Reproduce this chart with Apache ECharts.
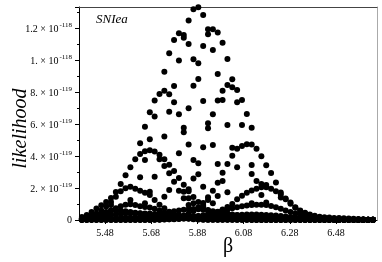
<!DOCTYPE html>
<html><head><meta charset="utf-8">
<script src="https://cdn.jsdelivr.net/npm/echarts@6/dist/echarts.min.js"></script>
<style>html,body{margin:0;padding:0;background:#fff}#c{width:382px;height:262px}</style>
</head><body><div id="c"></div>
<script>
// β sample grid (61 values)
const betaGrid = [
  5.380, 5.401, 5.422, 5.443, 5.464, 5.485, 5.506, 5.527, 5.548, 5.569, 5.590, 5.611, 5.632,
  5.653, 5.674, 5.695, 5.716, 5.737, 5.758, 5.779, 5.800, 5.821, 5.842, 5.863, 5.884, 5.905,
  5.926, 5.947, 5.968, 5.989, 6.010, 6.031, 6.052, 6.073, 6.094, 6.115, 6.136, 6.157,
  6.178, 6.199, 6.220, 6.241, 6.262, 6.283, 6.304, 6.325, 6.346, 6.367, 6.388, 6.409, 6.430, 6.451, 6.472, 6.493, 6.514, 6.535, 6.556, 6.577, 6.598, 6.619, 6.640
];
// likelihood values in units of 1e-119, one per beta in betaGrid
const curveLeftHigh = [
  0.18, 0.32, 0.5, 0.72, 0.92, 1.12, 1.38, 1.75, 2.25, 2.8, 3.3, 3.79, 4.12,
  4.3, 4.36, 4.28, 4.08, 3.8, 3.45, 3.06, 2.62, 2.2, 1.8, 1.44, 1.12, 0.85,
  0.63, 0.46, 0.33, 0.23, 0.16, 0.11, 0.07, 0.05, 0.04, 0.03, 0.02, 0.02,
  0.01, 0.01, 0.01, 0.01, 0.01, 0.01, 0.01, 0.01, 0.01, 0.01, 0.01, 0.01, 0.01, 0.01, 0.01, 0.01, 0.01, 0.01, 0.01, 0.01, 0.01, 0.01, 0.01
];
const curveLeftMid = [
  0.1, 0.17, 0.26, 0.4, 0.6, 0.85, 1.12, 1.45, 1.8, 1.98, 2.08, 1.95, 1.83,
  1.71, 1.56, 1.25, 0.95, 0.73, 0.52, 0.37, 0.26, 0.17, 0.11, 0.07, 0.05, 0.03,
  0.02, 0.02, 0.02, 0.02, 0.02, 0.02, 0.02, 0.02, 0.02, 0.02, 0.02, 0.02,
  0.01, 0.01, 0.01, 0.01, 0.01, 0.01, 0.01, 0.01, 0.01, 0.01, 0.01, 0.01, 0.01, 0.01, 0.01, 0.01, 0.01, 0.01, 0.01, 0.01, 0.01, 0.01, 0.01
];
const curveLeftLow = [
  0.06, 0.1, 0.16, 0.24, 0.34, 0.46, 0.6, 0.74, 0.86, 0.95, 0.98, 0.94, 0.86,
  0.82, 0.78, 0.7, 0.6, 0.47, 0.36, 0.26, 0.18, 0.12, 0.08, 0.05, 0.03, 0.02,
  0.01, 0.01, 0.01, 0.01, 0.01, 0.01, 0.01, 0.01, 0.01, 0.01, 0.01, 0.01,
  0.01, 0.01, 0.01, 0.01, 0.01, 0.01, 0.01, 0.01, 0.01, 0.01, 0.01, 0.01, 0.01, 0.01, 0.01, 0.01, 0.01, 0.01, 0.01, 0.01, 0.01, 0.01, 0.01
];
const curveLeftLowest = [
  0.1, 0.15, 0.22, 0.3, 0.4, 0.5, 0.58, 0.6, 0.58, 0.55, 0.5, 0.45, 0.4,
  0.35, 0.3, 0.27, 0.24, 0.21, 0.19, 0.17, 0.15, 0.13, 0.11, 0.1, 0.09, 0.08,
  0.07, 0.06, 0.05, 0.05, 0.04, 0.04, 0.03, 0.03, 0.03, 0.02, 0.02, 0.02,
  0.01, 0.01, 0.01, 0.01, 0.01, 0.01, 0.01, 0.01, 0.01, 0.01, 0.01, 0.01, 0.01, 0.01, 0.01, 0.01, 0.01, 0.01, 0.01, 0.01, 0.01, 0.01, 0.01
];
const curveMidLow = [
  0.03, 0.04, 0.05, 0.06, 0.07, 0.08, 0.09, 0.1, 0.11, 0.12, 0.14, 0.16, 0.18,
  0.2, 0.25, 0.3, 0.36, 0.42, 0.48, 0.54, 0.6, 0.64, 0.67, 0.68, 0.67, 0.64,
  0.6, 0.55, 0.5, 0.45, 0.4, 0.35, 0.3, 0.26, 0.22, 0.19, 0.16, 0.14,
  0.12, 0.1, 0.09, 0.08, 0.07, 0.06, 0.05, 0.04, 0.04, 0.03, 0.03, 0.03, 0.02, 0.02, 0.02, 0.02, 0.01, 0.01, 0.01, 0.01, 0.01, 0.01, 0.01
];
const curveRightHigh = [
  0.01, 0.01, 0.01, 0.01, 0.01, 0.01, 0.01, 0.01, 0.01, 0.01, 0.01, 0.01, 0.01,
  0.02, 0.02, 0.03, 0.04, 0.06, 0.09, 0.13, 0.19, 0.28, 0.4, 0.56, 0.78, 1.06,
  1.42, 1.83, 2.33, 2.96, 3.5, 4.02, 4.45, 4.62, 4.74, 4.72, 4.45, 3.98,
  3.42, 2.94, 2.35, 1.72, 1.34, 1.09, 0.8, 0.6, 0.45, 0.35, 0.27, 0.21, 0.17, 0.15, 0.13, 0.12, 0.11, 0.1, 0.08, 0.06, 0.04, 0.02, 0.01
];
const curveRightMid = [
  0.01, 0.01, 0.01, 0.01, 0.01, 0.01, 0.01, 0.01, 0.01, 0.01, 0.01, 0.01, 0.01,
  0.01, 0.01, 0.02, 0.02, 0.03, 0.04, 0.05, 0.07, 0.09, 0.12, 0.16, 0.2, 0.25,
  0.3, 0.4, 0.52, 0.66, 0.82, 1.0, 1.3, 1.52, 1.7, 1.85, 1.96, 2.04,
  2.04, 1.95, 1.8, 1.6, 1.3, 1.02, 0.76, 0.56, 0.4, 0.29, 0.21, 0.15, 0.11, 0.08, 0.06, 0.05, 0.04, 0.03, 0.02, 0.02, 0.01, 0.01, 0.01
];
const curveRightLow = [
  0.01, 0.01, 0.01, 0.01, 0.01, 0.01, 0.01, 0.01, 0.01, 0.01, 0.01, 0.01, 0.01,
  0.02, 0.02, 0.03, 0.03, 0.04, 0.05, 0.07, 0.09, 0.12, 0.15, 0.19, 0.24, 0.3,
  0.36, 0.43, 0.5, 0.58, 0.66, 0.74, 0.8, 0.86, 0.9, 0.93, 0.95, 0.95,
  0.93, 0.88, 0.8, 0.7, 0.6, 0.5, 0.4, 0.32, 0.25, 0.2, 0.16, 0.13, 0.11, 0.09, 0.08, 0.07, 0.06, 0.05, 0.04, 0.03, 0.02, 0.02, 0.01
];
const curveFloor = [
  0.08, 0.12, 0.16, 0.2, 0.24, 0.28, 0.32, 0.35, 0.38, 0.4, 0.42, 0.42, 0.42,
  0.41, 0.4, 0.38, 0.36, 0.34, 0.32, 0.3, 0.28, 0.27, 0.26, 0.25, 0.25, 0.25,
  0.25, 0.26, 0.27, 0.28, 0.3, 0.31, 0.32, 0.33, 0.34, 0.34, 0.34, 0.33,
  0.32, 0.3, 0.28, 0.25, 0.22, 0.19, 0.16, 0.13, 0.11, 0.09, 0.07, 0.06, 0.05, 0.04, 0.03, 0.03, 0.02, 0.02, 0.02, 0.01, 0.01, 0.01, 0.01
];
const curveBase = [
  0.02, 0.03, 0.04, 0.05, 0.06, 0.07, 0.08, 0.09, 0.1, 0.11, 0.12, 0.13, 0.14,
  0.14, 0.14, 0.13, 0.12, 0.11, 0.1, 0.1, 0.1, 0.1, 0.11, 0.12, 0.13, 0.14,
  0.15, 0.15, 0.15, 0.15, 0.14, 0.13, 0.12, 0.11, 0.1, 0.09, 0.08, 0.07,
  0.06, 0.05, 0.05, 0.04, 0.04, 0.03, 0.03, 0.03, 0.02, 0.02, 0.02, 0.02, 0.01, 0.01, 0.01, 0.01, 0.01, 0.01, 0.01, 0.0, 0.0, 0.0, 0.0
];
// sparse points [beta, likelihood (1e-119)]
const scatterPoints = [
  [5.863, 13.17], [5.884, 13.29], [5.905, 12.81], [5.842, 12.46], [5.926, 11.92], [5.947, 11.92],
  [5.926, 11.61], [5.968, 11.71], [5.800, 11.67], [5.821, 11.56], [5.821, 11.39], [5.779, 11.25],
  [5.842, 11.0], [5.905, 10.88], [5.989, 11.08], [5.947, 10.63], [5.758, 10.42], [5.800, 9.96],
  [5.863, 10.04], [5.884, 9.79], [6.010, 10.06], [5.737, 9.27], [5.968, 9.13], [5.884, 8.81],
  [5.863, 8.39], [6.031, 8.79], [5.779, 8.38], [5.737, 8.08], [5.716, 7.88], [5.758, 7.86],
  [5.989, 8.08], [6.010, 8.44], [6.031, 8.3], [6.052, 8.13], [5.695, 7.46], [5.779, 7.36],
  [5.905, 7.44], [5.968, 7.46], [5.989, 7.5], [6.052, 7.36], [6.073, 7.5], [5.674, 6.73],
  [5.695, 6.46], [5.758, 6.77], [5.800, 6.61], [5.842, 6.98], [5.947, 6.61], [6.094, 6.63],
  [5.653, 5.83], [5.821, 5.77], [5.821, 5.48], [5.926, 6.04], [5.926, 5.73], [6.010, 5.94],
  [6.073, 5.94], [6.115, 5.77], [5.632, 4.79], [5.674, 5.04], [5.737, 5.21], [5.842, 4.72],
  [5.800, 4.17], [5.905, 4.54], [5.947, 4.69], [6.031, 4.52], [5.863, 3.75], [5.884, 3.54],
  [5.968, 3.5], [6.052, 3.29], [5.758, 2.92], [5.884, 2.86], [5.863, 2.6], [5.779, 2.39],
  [5.989, 2.44], [5.800, 1.83], [5.842, 1.92], [5.905, 2.08], [6.010, 1.73], [5.821, 1.36],
  [5.926, 1.25], [5.968, 1.5], [5.695, 2.71], [5.632, 2.67], [5.653, 3.75], [5.716, 3.79],
  [5.737, 3.38], [5.674, 1.77], [5.737, 1.46], [5.758, 1.88], [5.590, 1.25], [6.157, 2.25],
  [6.178, 2.19], [6.178, 1.1], [6.241, 1.4], [6.115, 3.44], [6.115, 2.88], [6.136, 2.44],
  [5.506, 0.94], [5.653, 1.05], [5.821, 1.77], [5.842, 1.36], [5.842, 0.94], [5.863, 1.05],
  [5.905, 0.94], [5.947, 1.05], [6.115, 1.05], [6.157, 1.56]
];
const xTickLabels = [5.48, 5.68, 5.88, 6.08, 6.28, 6.48];
const panelLabel = 'SNIea';

const curves = [curveBase, curveFloor, curveLeftLowest, curveMidLow, curveLeftLow, curveRightLow,
  curveLeftMid, curveRightMid, curveLeftHigh, curveRightHigh];
const points = [];
curves.forEach(c => c.forEach((v, i) => points.push([betaGrid[i], v])));
scatterPoints.forEach(p => points.push(p));

const serif = 'Liberation Serif';
function yLabel(v) {
  if (v === 0) return '0';
  if (v > 12.5) return '';
  if (v >= 10) {
    const m = Math.round(v) / 10;
    return '{a|' + (m === 1 ? '1.' : String(m)) + ' × 10}{s|-118}';
  }
  return '{a|' + Math.round(v) + '. × 10}{s|-119}';
}

const chart = echarts.init(document.getElementById('c'), null, {renderer: 'canvas'});
chart.setOption({
  animation: false,
  backgroundColor: '#fff',
  title: {
    text: panelLabel, left: 91, top: 8,
    textStyle: {fontFamily: serif, fontStyle: 'italic', fontWeight: 'normal', fontSize: 13, color: '#000'}
  },
  grid: {left: 79, right: 5, top: 7, bottom: 42, containLabel: false, outerBoundsMode: 'none'},
  xAxis: [{
    type: 'value', min: 5.3675, max: 6.6575,
    name: 'β', nameLocation: 'middle', nameGap: 17, nameMoveOverlap: false,
    nameTextStyle: {fontFamily: serif, fontSize: 20, color: '#000'},
    axisLine: {show: true, onZero: false, lineStyle: {color: '#000', width: 1}},
    axisTick: {show: true, customValues: xTickLabels, length: 4, lineStyle: {color: '#000'}},
    axisLabel: {customValues: xTickLabels, formatter: v => v.toFixed(2), fontFamily: serif, fontSize: 10, color: '#000', margin: 8},
    splitLine: {show: false}
  }, {
    type: 'value', min: 5.3675, max: 6.6575, position: 'top',
    axisLine: {show: true, onZero: false, lineStyle: {color: '#444', width: 1}},
    axisTick: {show: false}, axisLabel: {show: false}, splitLine: {show: false}
  }],
  yAxis: [{
    type: 'value', min: 0, max: 13.31, interval: 2,
    name: 'likelihood', nameLocation: 'middle', nameGap: 48, nameMoveOverlap: false,
    nameTextStyle: {fontFamily: serif, fontStyle: 'italic', fontSize: 20, color: '#000', padding: [0, 30, 0, 0]},
    axisLine: {show: true, onZero: false, lineStyle: {color: '#000', width: 1}},
    axisTick: {show: true, length: 4, lineStyle: {color: '#000'}},
    minorTick: {show: true, splitNumber: 2, length: 2, lineStyle: {color: '#000'}},
    axisLabel: {
      formatter: yLabel, showMaxLabel: false, margin: 7,
      fontFamily: serif, fontSize: 10, color: '#000',
      rich: {
        a: {fontFamily: serif, fontSize: 10, color: '#000', verticalAlign: 'bottom', lineHeight: 13},
        s: {fontFamily: serif, fontSize: 7, color: '#000', verticalAlign: 'top', lineHeight: 13, padding: [0, 0, 0, 1]}
      }
    },
    splitLine: {show: false}
  }, {
    type: 'value', min: 0, max: 13.31, position: 'right',
    axisLine: {show: true, onZero: false, lineStyle: {color: '#aaa', width: 1}},
    axisTick: {show: false}, axisLabel: {show: false}, splitLine: {show: false}
  }],
  series: [{
    type: 'scatter', data: points, symbol: 'circle', symbolSize: 6,
    itemStyle: {color: '#000', opacity: 1}, silent: true
  }]
});
</script>
</body></html>
